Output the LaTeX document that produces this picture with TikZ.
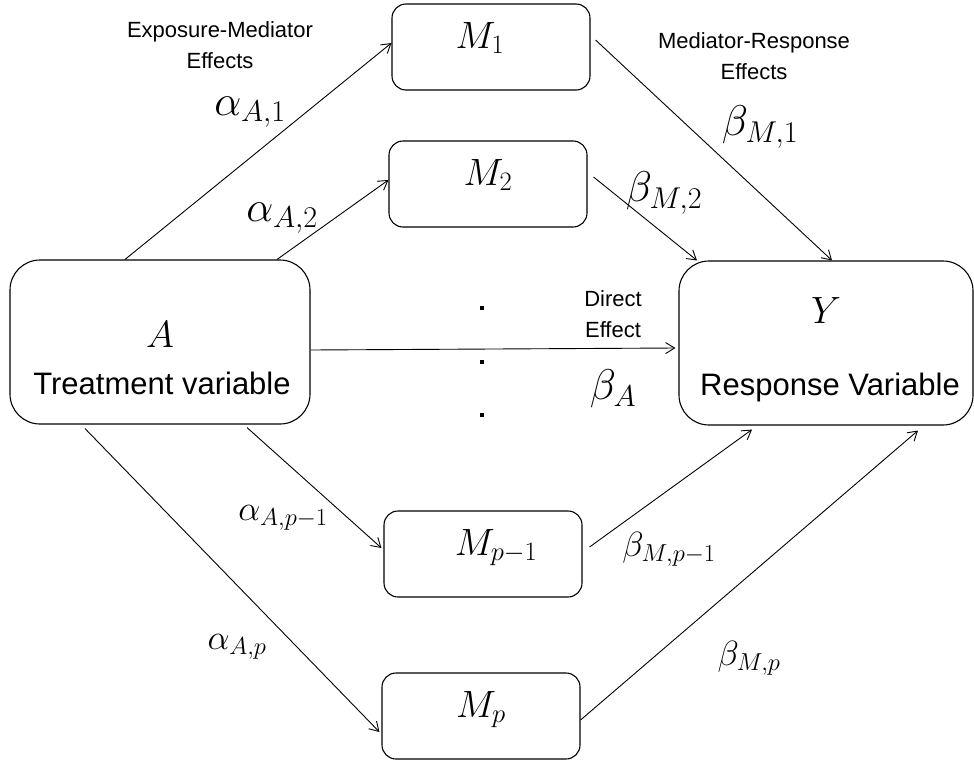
\RequirePackage{fix-cm}
\documentclass[tikz,border=0pt]{standalone}
\usepackage{fontspec}
\newfontfamily\arialf{Liberation Sans}
\usetikzlibrary{arrows.meta}
\begin{document}
\begin{tikzpicture}[x=1pt,y=-1pt,
  box/.style={draw, line width=1.1pt, rounded corners=14pt, minimum width=198pt, minimum height=86pt, inner sep=0pt},
  bigbox/.style={draw, line width=1.1pt, rounded corners=30pt, minimum height=164pt, inner sep=0pt},
  conn/.style={line width=0.9pt, -{Straight Barb[length=9pt,width=11pt,line width=0.9pt]}},
  mathbig/.style={font=\fontsize{43}{46}\selectfont, inner sep=0pt},
  mathsmall/.style={font=\fontsize{35}{38}\selectfont, inner sep=0pt},
  varlbl/.style={font=\fontsize{38}{42}\selectfont, inner sep=0pt, anchor=base},
  boxtxt/.style={font=\arialf\fontsize{31}{36}\selectfont, inner sep=0pt, anchor=base},
  note/.style={font=\arialf\fontsize{22}{31}\selectfont, align=center, inner sep=0pt},
  dotm/.style={fill, minimum size=3.5pt, inner sep=0pt}]
\useasboundingbox (0,0) rectangle (974,763);
% boxes
\node[bigbox, minimum width=300pt] (A) at (160,342) {};
\node[bigbox, minimum width=294pt] (Y) at (826,343) {};
\node[box] (M1) at (491,47) {};
\node[box] (M2) at (488,184) {};
\node[box] (Mq) at (483,554) {};
\node[box] (Mp) at (481,716) {};
% texts inside boxes
\node[varlbl] (tA) at (160,347) {$A$};
\node[boxtxt] (tAn) at (162,394) {Treatment variable};
\node[varlbl] (tY) at (826,323) {$Y$};
\node[boxtxt] (tYn) at (830,395) {Response Variable};
\node[varlbl] (tM1) at (480,48) {$M_1$};
\node[varlbl] (tM2) at (488,185) {$M_2$};
\node[varlbl] (tMq) at (496,555) {$M_{p-1}$};
\node[varlbl] (tMp) at (481,717) {$M_p$};
% dots
\node[dotm] (d1) at (482,308) {};
\node[dotm] (d2) at (482,362) {};
\node[dotm] (d3) at (482,415) {};
% notes
\node[note] (n1) at (220,45) {Exposure-Mediator\\Effects};
\node[note] (n2) at (754,56) {Mediator-Response\\Effects};
\node[note] (n3) at (613,314) {Direct\\Effect};
% connectors
\draw[conn] ([xshift=-35pt]A.north) -- ([yshift=4pt]M1.west);
\draw[conn] ([xshift=117pt]A.north) -- ([yshift=4pt]M2.west);
\draw[conn] ([yshift=-8pt]A.east) -- ([yshift=-5pt,xshift=-3pt]Y.west);
\draw[conn] ([xshift=5pt,yshift=7pt]M1.east) -- ([xshift=6pt]Y.north);
\draw[conn] ([xshift=6pt,yshift=7pt]M2.east) -- ([xshift=-129pt]Y.north);
\draw[conn] ([xshift=87pt,yshift=-3pt]A.south) -- ([xshift=-2pt,yshift=6pt]Mq.west);
\draw[conn] ([xshift=-75pt,yshift=-4pt]A.south) -- ([xshift=-2pt,yshift=-16pt]Mp.west);
\draw[conn] ([xshift=7pt,yshift=7pt]Mq.east) -- ([xshift=-74pt,yshift=-4pt]Y.south);
\draw[conn] ([yshift=-4pt]Mp.east) -- ([xshift=92pt,yshift=-5pt]Y.south);
% effect labels
\node[mathbig] (a1) at (250,112) {$\alpha_{A,1}$};
\node[mathbig] (a2) at (282,218) {$\alpha_{A,2}$};
\node[mathbig] (b1) at (760,127) {$\beta_{M,1}$};
\node[mathbig] (b2) at (664,193) {$\beta_{M,2}$};
\node[mathbig] (bA) at (613,389) {$\beta_A$};
\node[mathsmall] (aq) at (283,518) {$\alpha_{A,p-1}$};
\node[mathsmall] (bq) at (669,549) {$\beta_{M,p-1}$};
\node[mathsmall] (ap) at (237,647) {$\alpha_{A,p}$};
\node[mathsmall] (bp) at (749,658) {$\beta_{M,p}$};
\end{tikzpicture}
\end{document}
